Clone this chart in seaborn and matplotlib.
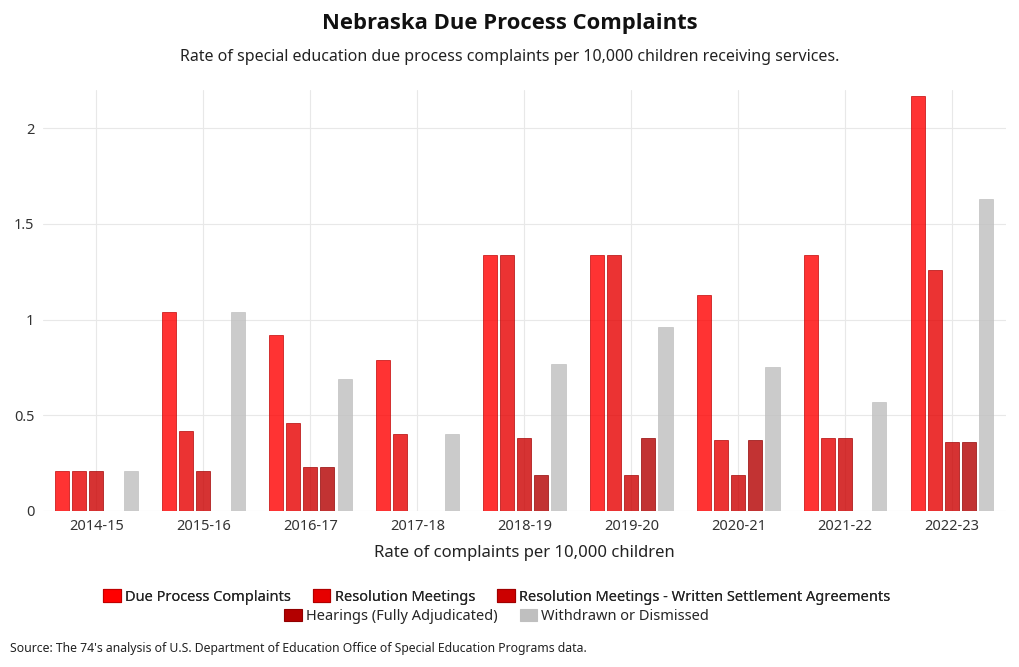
import pandas as pd
import numpy as np
import matplotlib.pyplot as plt
import seaborn as sns
from matplotlib.patches import Patch
from matplotlib.ticker import FuncFormatter

# Datos (tasa por 10,000 ninos)
anios = ['2014-15', '2015-16', '2016-17', '2017-18', '2018-19',
         '2019-20', '2020-21', '2021-22', '2022-23']
series = ['Due Process Complaints', 'Resolution Meetings',
          'Resolution Meetings - Written Settlement Agreements',
          'Hearings (Fully Adjudicated)', 'Withdrawn or Dismissed']

due_process = [0.21, 1.04, 0.92, 0.79, 1.34, 1.34, 1.13, 1.34, 2.17]
resolution = [0.21, 0.42, 0.46, 0.40, 1.34, 1.34, 0.37, 0.38, 1.26]
written = [0.21, 0.21, 0.23, np.nan, 0.38, 0.19, 0.19, 0.38, 0.36]
hearings = [np.nan, np.nan, 0.23, np.nan, 0.19, 0.38, 0.37, np.nan, 0.36]
withdrawn = [0.21, 1.04, 0.69, 0.40, 0.77, 0.96, 0.75, 0.57, 1.63]

colores = ['#ff0000', '#e60000', '#cc0000', '#b30000', '#bfbfbf']
bordes = ['#c00000', '#b00000', '#a00000', '#900000', '#bfbfbf']

df = pd.DataFrame({'anio': anios * 5,
                   'serie': np.repeat(series, len(anios)),
                   'valor': due_process + resolution + written + hearings + withdrawn})

sns.set_style('white')
plt.rcParams['font.family'] = ['Noto Sans', 'DejaVu Sans']

fig = plt.figure(figsize=(10.2, 6.67), dpi=100)
ax = fig.add_axes([0.042, 0.234, 0.944, 0.631])

sns.barplot(data=df, x='anio', y='valor', hue='serie', hue_order=series,
            palette=colores, saturation=1, alpha=0.8, width=0.8, gap=0.18,
            linewidth=0.6, ax=ax, legend=False)

# bordes de cada barra segun serie
for cont, borde in zip(ax.containers, bordes):
    for p in cont:
        p.set_edgecolor(borde)

ax.set_ylim(0, 2.2)
ax.set_yticks([0, 0.5, 1, 1.5, 2])
ax.yaxis.set_major_formatter(FuncFormatter(lambda v, _: f'{v:g}'))
ax.grid(True, axis='both', color='#e8e8e8', linewidth=0.8)
ax.set_axisbelow(True)
for s in ax.spines.values():
    s.set_visible(False)
ax.tick_params(axis='both', length=0, labelsize=10.5, colors='#333333', pad=6)
ax.set_xlabel('Rate of complaints per 10,000 children', fontsize=12,
              color='#222222', labelpad=8)
ax.set_ylabel('')

fig.text(0.5, 0.965, 'Nebraska Due Process Complaints', ha='center',
         va='center', fontsize=15.8, fontweight='bold', color='#111111',
         family=['Open Sans', 'DejaVu Sans'])
fig.text(0.5, 0.915, 'Rate of special education due process complaints per 10,000 children receiving services.',
         ha='center', va='center', fontsize=11.5, color='#222222')

handles = [Patch(facecolor=c, edgecolor=b, linewidth=0.8) for c, b in zip(colores, bordes)]
leg1 = fig.legend(handles[:3], series[:3], loc='center', ncol=3,
                  bbox_to_anchor=(0.487, 0.105), frameon=False, fontsize=10.5,
                  handlelength=1.2, handleheight=0.9, handletextpad=0.3,
                  columnspacing=1.5)
fig.legend(handles[3:], series[3:], loc='center', ncol=2,
           bbox_to_anchor=(0.487, 0.076), frameon=False, fontsize=10.5,
           handlelength=1.2, handleheight=0.9, handletextpad=0.3,
           columnspacing=1.5)
fig.add_artist(leg1)

fig.text(0.01, 0.028, "Source: The 74's analysis of U.S. Department of Education Office of Special Education Programs data.",
         ha='left', va='center', fontsize=8.8, color='#222222')

fig.savefig('out.png', dpi=100)
